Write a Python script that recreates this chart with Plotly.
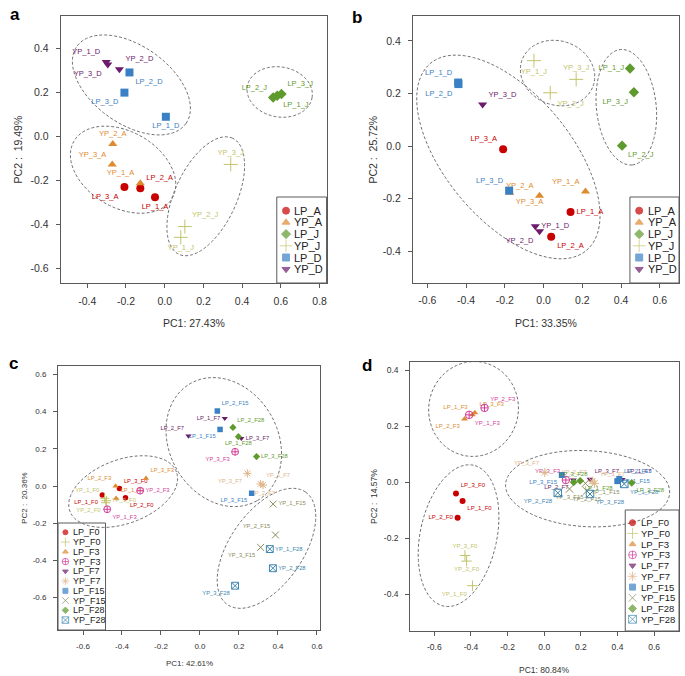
import numpy as np
import plotly.graph_objects as go

W, H = 685, 676

# ---------------- Panel a ----------------
A_NAMES = ["LP_1_A", "LP_2_A", "LP_3_A", "YP_1_A", "YP_2_A", "YP_3_A",
           "LP_1_J", "LP_2_J", "LP_3_J", "YP_1_J", "YP_2_J", "YP_3_J",
           "LP_1_D", "LP_2_D", "LP_3_D", "YP_1_D", "YP_2_D", "YP_3_D"]
A_PC1 = [-0.050, -0.126, -0.208, -0.126, -0.268, -0.271,
         0.581, 0.560, 0.603, 0.083, 0.104, 0.341,
         0.006, -0.182, -0.208, -0.302, -0.234, -0.294]
A_PC2 = [-0.277, -0.236, -0.230, -0.213, -0.034, -0.127,
         0.186, 0.178, 0.194, -0.459, -0.410, -0.127,
         0.090, 0.292, 0.200, 0.340, 0.307, 0.328]
A_GROUPS = ["LP_A", "YP_A", "LP_J", "YP_J", "LP_D", "YP_D"]
A_XTICKS = [-0.4, -0.2, 0.0, 0.2, 0.4, 0.6, 0.8]
A_YTICKS = [-0.6, -0.4, -0.2, 0.0, 0.2, 0.4]
A_TITLES = ["PC1: 27.43%", "PC2 :  19.49%"]

# ---------------- Panel b ----------------
B_NAMES = ["LP_1_A", "LP_2_A", "LP_3_A", "YP_1_A", "YP_2_A", "YP_3_A",
           "LP_1_J", "LP_2_J", "LP_3_J", "YP_1_J", "YP_2_J", "YP_3_J",
           "LP_1_D", "LP_2_D", "LP_3_D", "YP_1_D", "YP_2_D", "YP_3_D"]
B_PC1 = [0.139, 0.039, -0.209, 0.216, -0.021, -0.175,
         0.446, 0.405, 0.466, -0.050, 0.034, 0.168,
         -0.441, -0.440, -0.178, -0.043, -0.021, -0.315]
B_PC2 = [-0.250, -0.344, -0.012, -0.172, -0.188, -0.177,
         0.295, 0.002, 0.205, 0.325, 0.203, 0.254,
         0.242, 0.236, -0.169, -0.304, -0.323, 0.158]
B_GROUPS = ["LP_A", "YP_A", "LP_J", "YP_J", "LP_D", "YP_D"]
B_XTICKS = [-0.6, -0.4, -0.2, 0.0, 0.2, 0.4, 0.6]
B_YTICKS = [-0.4, -0.2, 0.0, 0.2, 0.4]
B_TITLES = ["PC1: 33.35%", "PC2 :  25.72%"]

# ---------------- Panel c ----------------
C_NAMES = ["LP_1_F0", "LP_2_F0", "LP_3_F0", "YP_1_F0", "YP_2_F0", "YP_3_F0",
           "LP_1_F3", "LP_2_F3", "LP_3_F3", "YP_1_F3", "YP_2_F3", "YP_3_F3",
           "LP_1_F7", "LP_2_F7", "LP_3_F7", "YP_1_F7", "YP_2_F7", "YP_3_F7",
           "LP_1_F15", "LP_2_F15", "LP_3_F15", "YP_1_F15", "YP_2_F15", "YP_3_F15",
           "LP_1_F28", "LP_2_F28", "LP_3_F28", "YP_1_F28", "YP_2_F28", "YP_3_F28"]
C_PC1 = [-0.501, -0.382, -0.413, -0.489, -0.483, -0.480,
         -0.430, -0.433, -0.277, -0.476, -0.307, 0.180,
         0.127, -0.059, 0.212, 0.311, 0.323, 0.243,
         0.103, 0.089, 0.265, 0.375, 0.387, 0.311,
         0.197, 0.169, 0.290, 0.358, 0.374, 0.180]
C_PC2 = [-0.048, -0.063, -0.013, -0.066, -0.090, -0.079,
         -0.066, 0.000, 0.041, -0.125, -0.025, 0.184,
         0.364, 0.269, 0.256, 0.011, 0.005, 0.068,
         0.304, 0.403, -0.039, -0.097, -0.263, -0.330,
         0.265, 0.315, 0.158, -0.339, -0.442, -0.536]
C_GROUPS = ["LP_F0", "YP_F0", "LP_F3", "YP_F3", "LP_F7",
            "YP_F7", "LP_F15", "YP_F15", "LP_F28", "YP_F28"]
C_XTICKS = [-0.6, -0.4, -0.2, 0.0, 0.2, 0.4, 0.6]
C_YTICKS = [-0.6, -0.4, -0.2, 0.0, 0.2, 0.4, 0.6]
C_TITLES = ["PC1: 42.61%", "PC2 :  20.36%"]

# ---------------- Panel d ----------------
D_NAMES = C_NAMES
D_PC1 = [-0.446, -0.473, -0.482, -0.392, -0.424, -0.433,
         -0.392, -0.435, -0.379, -0.410, -0.326, 0.118,
         0.426, 0.159, 0.250, 0.274, 0.262, 0.003,
         0.399, 0.410, 0.096, 0.225, 0.232, 0.138,
         0.196, 0.478, 0.161, 0.437, 0.074, 0.250]
D_PC2 = [-0.067, -0.127, -0.040, -0.370, -0.282, -0.262,
         0.241, 0.226, 0.249, 0.241, 0.266, 0.008,
         0.010, 0.008, 0.011, -0.004, 0.004, 0.035,
         0.004, 0.012, 0.026, -0.004, -0.031, -0.024,
         0.005, -0.002, 0.000, -0.006, -0.038, -0.042]
D_GROUPS = C_GROUPS
D_XTICKS = [-0.6, -0.4, -0.2, 0.0, 0.2, 0.4, 0.6]
D_YTICKS = [-0.4, -0.2, 0.0, 0.2, 0.4]
D_TITLES = ["PC1: 80.84%", "PC2 :  14.57%"]

# ---------------- label placement (style) ----------------
A_TEXTPOS = ["bottom center", "top right", "bottom left", "top left", "top center", "top left",
             "bottom right", "top left", "top right", "bottom center", "top right", "top center",
             "bottom center", "bottom right", "bottom left", "top left", "top right", "bottom left"]
B_TEXTPOS = ["middle right", "bottom right", "top left", "top left", "top left", "bottom right",
             "middle left", "bottom right", "bottom left", "bottom center", "bottom right", "top center",
             "top left", "bottom left", "top left", "middle right", "bottom left", "top right"]
C_TEXTPOS = ["bottom left", "bottom right", "top right", "top left", "bottom left", "middle right",
             "top right", "top left", "top right", "bottom right", "middle right", "bottom left",
             "middle left", "top left", "middle right", "top right", "bottom center", "bottom left",
             "bottom left", "top right", "bottom left", "middle right", "top left", "bottom left",
             "bottom center", "top right", "middle right", "middle right", "middle right", "bottom left"]
D_TEXTPOS = ["bottom right", "middle left", "top right", "bottom left", "bottom center", "top center",
             "top left", "bottom left", "top right", "bottom right", "top right", "top left",
             "top right", "bottom left", "top right", "top right", "top left", "top left",
             "middle right", "top right", "bottom left", "bottom right", "bottom center", "bottom center",
             "bottom right", "bottom right", "top center", "bottom right", "bottom left", "bottom right"]

# group outlines: centre (data units), semi-axes (px), angle (deg)
A_ELLIPSES = [(-0.172, 0.235, 67, 39, -35), (-0.215, -0.151, 57, 38, -30),
              (0.212, -0.272, 64, 31, 65), (0.594, 0.203, 33, 25, -10)]
B_ELLIPSES = [(-0.182, -0.041, 122, 63, -50), (0.072, 0.278, 38, 32, -20),
              (0.427, 0.148, 58, 30, -84)]
C_ELLIPSES = [(-0.394, -0.030, 57, 32, 20), (0.122, 0.236, 67.5, 54.5, -60),
              (0.341, -0.335, 68.6, 36.7, 55)]
D_ELLIPSES = [(-0.386, 0.262, 47.5, 45, 80), (-0.468, -0.191, 72, 38.5, 78),
              (0.237, -0.023, 82.5, 38, -3)]

RED, ORANGE, GREEN, KHAKI = "#C80000", "#DE8A2E", "#5F9A2E", "#C2C46A"
BLUE, PURPLE, MAGENTA, TAN = "#3A80C4", "#6C1A6A", "#D23C98", "#E0B488"
OLIVE, STEEL = "#8C8C5C", "#3D86B0"
STYLE = {
    "LP_A": (RED, "circle"), "YP_A": (ORANGE, "triangle-up"),
    "LP_J": (GREEN, "diamond"), "YP_J": (KHAKI, "cross-thin-open"),
    "LP_D": (BLUE, "square"), "YP_D": (PURPLE, "triangle-down"),
    "LP_F0": (RED, "circle"), "YP_F0": (KHAKI, "cross-thin-open"),
    "LP_F3": (ORANGE, "triangle-up"), "YP_F3": (MAGENTA, "circle-cross-open"),
    "LP_F7": (PURPLE, "triangle-down"), "YP_F7": (TAN, "asterisk-open"),
    "LP_F15": (BLUE, "square"), "YP_F15": (OLIVE, "x-thin-open"),
    "LP_F28": (GREEN, "diamond"), "YP_F28": (STEEL, "square-x-open"),
}

FONT = "Arial, Liberation Sans, Helvetica, sans-serif"
FRAME = "#5a5a5a"

PANELS = [
    dict(letter="a", letter_xy=(8, 3), names=A_NAMES, pc1=A_PC1, pc2=A_PC2, groups=A_GROUPS,
         pos=A_TEXTPOS, xt=A_XTICKS, yt=A_YTICKS, titles=A_TITLES, ell=A_ELLIPSES,
         box=(61, 16, 328, 283), xr=(-0.537, 0.836), yr=(-0.667, 0.549),
         ms=8, ls=7.5, tick=10.5, tfs=10.5, xt_y=323, yt_x=18,
         leg=dict(box=(278, 197, 328, 283), y0=210.7, dy=11.7, sx=287.3, tx=293.3, fs=11, ms=7)),
    dict(letter="b", letter_xy=(352, 6), names=B_NAMES, pc1=B_PC1, pc2=B_PC2, groups=B_GROUPS,
         pos=B_TEXTPOS, xt=B_XTICKS, yt=B_YTICKS, titles=B_TITLES, ell=B_ELLIPSES,
         box=(414.7, 15.7, 682, 282.7), xr=(-0.675, 0.699), yr=(-0.519, 0.496),
         ms=8, ls=7.5, tick=10.5, tfs=10.5, xt_y=323, yt_x=375,
         leg=dict(box=(632.7, 197, 682, 283), y0=210.7, dy=11.7, sx=642, tx=648.7, fs=11, ms=7)),
    dict(letter="c", letter_xy=(7, 352), names=C_NAMES, pc1=C_PC1, pc2=C_PC2, groups=C_GROUPS,
         pos=C_TEXTPOS, xt=C_XTICKS, yt=C_YTICKS, titles=C_TITLES, ell=C_ELLIPSES,
         box=(58.3, 366, 321.7, 630), xr=(-0.728, 0.617), yr=(-0.774, 0.645),
         ms=5.5, ls=5.8, tick=8, tfs=8, xt_y=663, yt_x=24,
         leg=dict(box=(58.3, 523, 106, 630), y0=532.3, dy=9.75, sx=65.7, tx=71.7, fs=9, ms=5)),
    dict(letter="d", letter_xy=(362, 354), names=D_NAMES, pc1=D_PC1, pc2=D_PC2, groups=D_GROUPS,
         pos=D_TEXTPOS, xt=D_XTICKS, yt=D_YTICKS, titles=D_TITLES, ell=D_ELLIPSES,
         box=(412, 362.3, 682, 631), xr=(-0.732, 0.736), yr=(-0.532, 0.429),
         ms=6, ls=6, tick=8.5, tfs=8.5, xt_y=670, yt_x=375,
         leg=dict(box=(628, 510, 682, 631), y0=522.7, dy=10.73, sx=635.3, tx=642, fs=9.5, ms=6)),
]


def group_of(name):
    p = name.split("_")
    return p[0] + "_" + p[2]


def ellipse_path(cx, cy, a, b, ang, sx, sy, n=120):
    t = np.linspace(0, 2 * np.pi, n, endpoint=False)
    th = np.radians(ang)
    u, v = a * np.cos(t), b * np.sin(t)
    xs = cx + (u * np.cos(th) - v * np.sin(th)) / sx
    ys = cy + (u * np.sin(th) + v * np.cos(th)) / sy
    return "M " + " L ".join(f"{x:.5f},{y:.5f}" for x, y in zip(xs, ys)) + " Z"


def fmt(v):
    return f"{v:.1f}".replace("-0.0", "0.0")


fig = go.Figure()
shapes, annotations = [], []
layout = dict(width=W, height=H, margin=dict(l=0, r=0, t=0, b=0),
              paper_bgcolor="white", plot_bgcolor="white", showlegend=False,
              font=dict(family=FONT, color="#333333"))

for i, P in enumerate(PANELS):
    sfx = "" if i == 0 else str(i + 1)
    xa, ya = "x" + sfx, "y" + sfx
    l, t, r, b = P["box"]
    xr, yr = P["xr"], P["yr"]
    layout["xaxis" + sfx] = dict(
        domain=[l / W, r / W], range=list(xr), anchor=ya, showgrid=False, zeroline=False,
        showline=True, mirror=True, linecolor=FRAME, linewidth=1,
        ticks="outside", ticklen=4, tickwidth=1, tickcolor=FRAME,
        tickvals=P["xt"], ticktext=[fmt(v) for v in P["xt"]],
        tickfont=dict(size=P["tick"], color="#333333", family=FONT), ticklabelstandoff=4)
    layout["yaxis" + sfx] = dict(
        domain=[1 - b / H, 1 - t / H], range=list(yr), anchor=xa, showgrid=False, zeroline=False,
        showline=True, mirror=True, linecolor=FRAME, linewidth=1,
        ticks="outside", ticklen=4, tickwidth=1, tickcolor=FRAME,
        tickvals=P["yt"], ticktext=[fmt(v) for v in P["yt"]],
        tickfont=dict(size=P["tick"], color="#333333", family=FONT), ticklabelstandoff=5)

    sxp = (r - l) / (xr[1] - xr[0])
    syp = (b - t) / (yr[1] - yr[0])
    for (cx, cy, ea, eb, ang) in P["ell"]:
        shapes.append(dict(type="path", xref=xa, yref=ya, layer="below",
                           path=ellipse_path(cx, cy, ea, eb, ang, sxp, syp),
                           line=dict(color="#707070", width=1, dash="3px,2px")))

    grp = [group_of(n) for n in P["names"]]
    for g in P["groups"]:
        idx = [k for k, gg in enumerate(grp) if gg == g]
        col, sym = STYLE[g]
        is_open = sym.endswith("open")
        size = P["ms"] * (1.25 if is_open else 1.0)
        fig.add_trace(go.Scatter(
            x=[P["pc1"][k] for k in idx], y=[P["pc2"][k] for k in idx],
            text=[P["names"][k] for k in idx], textposition=[P["pos"][k] for k in idx],
            mode="markers+text", xaxis=xa, yaxis=ya, showlegend=False, cliponaxis=False,
            marker=dict(symbol=sym, size=size, color=col,
                        line=dict(color=col, width=1 if is_open else 0)),
            textfont=dict(color=col, size=P["ls"], family=FONT), hoverinfo="text"))

    # legend (drawn manually to match compact R legend)
    L = P["leg"]
    bl, bt, br, bb = L["box"]
    shapes.append(dict(type="rect", xref="paper", yref="paper", layer="below",
                       x0=bl / W, x1=br / W, y0=1 - bb / H, y1=1 - bt / H,
                       line=dict(color=FRAME, width=1), fillcolor="white"))
    lx, ly, lsym, lcol, lsz = [], [], [], [], []
    for j, g in enumerate(P["groups"]):
        py = L["y0"] + j * L["dy"]
        col, sym = STYLE[g]
        lx.append(xr[0] + (L["sx"] - l) / (r - l) * (xr[1] - xr[0]))
        ly.append(yr[1] - (py - t) / (b - t) * (yr[1] - yr[0]))
        lsym.append(sym)
        lcol.append(col)
        lsz.append(L["ms"] * (1.3 if sym.endswith("open") else 1.0))
        annotations.append(dict(x=L["tx"] / W, y=1 - py / H, xref="paper", yref="paper",
                                text=g, showarrow=False, xanchor="left", yanchor="middle",
                                font=dict(size=L["fs"], color="#222222", family=FONT)))
    fig.add_trace(go.Scatter(x=lx, y=ly, mode="markers", xaxis=xa, yaxis=ya, showlegend=False,
                             hoverinfo="skip", cliponaxis=False,
                             marker=dict(symbol=lsym, size=lsz, color=lcol,
                                         line=dict(color=lcol, width=1))))

    # axis titles
    annotations.append(dict(x=(l + r) / 2 / W, y=1 - P["xt_y"] / H, xref="paper", yref="paper",
                            text=P["titles"][0], showarrow=False, xanchor="center", yanchor="middle",
                            font=dict(size=P["tfs"], color="#333333", family=FONT)))
    annotations.append(dict(x=P["yt_x"] / W, y=1 - (t + b) / 2 / H, xref="paper", yref="paper",
                            text=P["titles"][1], showarrow=False, textangle=-90,
                            xanchor="center", yanchor="middle",
                            font=dict(size=P["tfs"], color="#333333", family=FONT)))
    # panel letter
    annotations.append(dict(x=P["letter_xy"][0] / W, y=1 - P["letter_xy"][1] / H,
                            xref="paper", yref="paper", text="<b>" + P["letter"] + "</b>",
                            showarrow=False, xanchor="left", yanchor="top",
                            font=dict(size=17, color="black", family=FONT)))

layout["shapes"] = shapes
layout["annotations"] = annotations
fig.update_layout(**layout)
fig.write_html("out.html", config={"displayModeBar": False},
               post_script="document.body.style.margin='0';document.body.style.overflow='hidden';")
